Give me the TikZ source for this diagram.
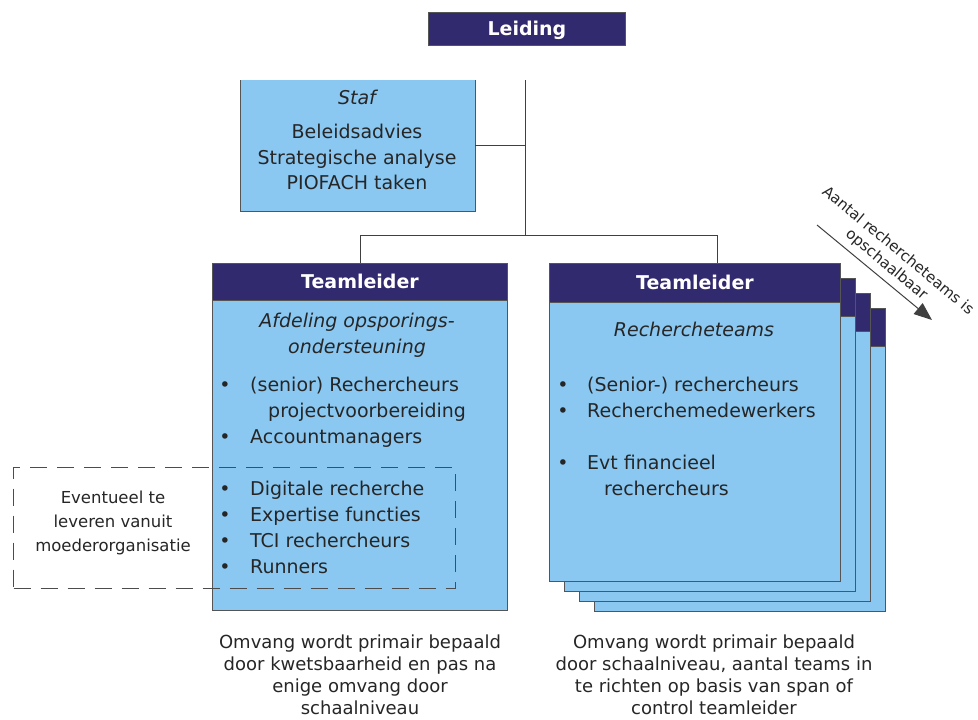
\documentclass[tikz,border=0pt]{standalone}
\usepackage{fontspec}
\setmainfont{DejaVu Sans}
\usetikzlibrary{arrows.meta,calc}
\definecolor{donkerblauw}{RGB}{50,42,110}
\definecolor{lichtblauw}{RGB}{138,200,242}
\definecolor{randgrijs}{RGB}{85,85,85}
\newcommand{\grootfont}{\fontsize{19}{25}\selectfont}
\newcommand{\kleinfont}{\fontsize{18}{22}\selectfont}
\newcommand{\middelfont}{\fontsize{16.5}{24}\selectfont}

\begin{document}
\begin{tikzpicture}[x=1pt,y=-1pt,text=black!85,
    vak/.style = {fill=lichtblauw, draw=randgrijs, line width=0.9pt, inner sep=0pt, anchor=north west},
    kop/.style = {fill=donkerblauw, draw=randgrijs, line width=0.9pt, text=white, font=\grootfont\bfseries,
                  inner sep=0pt, anchor=north west, text height=14pt, text depth=0pt},
    regel/.style = {inner sep=0pt, text height=14pt, text depth=0pt, font=\grootfont},
    lijn/.style = {draw=black!75, line width=0.9pt}]
    \useasboundingbox (0,0) rectangle (978,720);

    % leiding en staf
    \node[kop, minimum width=197pt, minimum height=33pt] (leiding) at (428,12) {Leiding};
    \node[fill=lichtblauw, inner sep=0pt, anchor=north west, minimum width=235pt, minimum height=131pt] (staf) at (240,80) {};
    \draw[draw=randgrijs, line width=0.9pt] (staf.north west) -- (staf.south west) -- (staf.south east) -- (staf.north east);
    \node[regel, font=\grootfont\itshape] (staf1) at (357,97) {Staf};
    \node[regel] (staf2) at (357,131) {Beleidsadvies};
    \node[regel] (staf3) at (357,157) {Strategische analyse};
    \node[regel] (staf4) at (357,182) {PIOFACH taken};

    % rechercheteams (stapel)
    \foreach \i in {3,2,1} {
        \node[vak, minimum width=291pt, minimum height={318-5*\i}] (rteam\i) at ({549+15*\i},{263+15*\i}) {};
        \node[kop, minimum width=291pt, minimum height=38pt] (rkop\i) at (rteam\i.north west) {};
    }
    \node[kop, minimum width=291pt, minimum height=39pt] (rkop) at (549,263) {Teamleider};
    \node[vak, minimum width=291pt, minimum height=279pt] (rteam) at (549,302) {};

    % afdeling opsporingsondersteuning
    \node[kop, minimum width=295pt, minimum height=37pt] (lkop) at (212,263) {Teamleider};
    \node[vak, minimum width=295pt, minimum height=310pt] (lteam) at (212,300) {};

    % verbindingen
    \coordinate (stam) at (525,80);
    \coordinate (splits) at (525,235);
    \coordinate (rmidden) at ($(rkop.north west)!.5!(rteam3.north east)$);
    \draw[lijn] (stam) -- (splits);
    \draw[lijn] (staf.east) -- (staf.east -| stam);
    \draw[lijn] (splits) -| (lkop.north);
    \draw[lijn] (splits) -| (rmidden |- rkop.north);

    % tekst links
    \node[regel, font=\grootfont\itshape] (lt1) at (357,320) {Afdeling opsporings-};
    \node[regel, font=\grootfont\itshape] (lt2) at (357,346) {ondersteuning};
    \foreach \y/\t in {384/(senior) Rechercheurs, 436/Accountmanagers, 488/Digitale recherche,
                       514/Expertise functies, 540/TCI rechercheurs, 566/Runners} {
        \node[regel] (lb\y) at (225,\y) {\textbullet};
        \node[regel, anchor=west] (lr\y) at (250,\y) {\t};
    }
    \node[regel, anchor=west] (lr410) at (268,410) {projectvoorbereiding};

    % tekst rechts
    \node[regel, font=\grootfont\itshape] (rt1) at (694,329) {Rechercheteams};
    \foreach \y/\t in {384/(Senior-) rechercheurs, 410/Recherchemedewerkers, 462/Evt financieel} {
        \node[regel] (rb\y) at (563,\y) {\textbullet};
        \node[regel, anchor=west] (rr\y) at (587,\y) {\t};
    }
    \node[regel, anchor=west] (rr488) at (604,488) {rechercheurs};

    % extern te leveren
    \node[draw=black!70, line width=1.3pt, dash pattern=on 17pt off 10pt, inner sep=0pt, anchor=north west,
          minimum width=442pt, minimum height=121pt] (extern) at (13,467) {};
    \node[font=\middelfont, align=center, inner sep=0pt] (externtekst) at (113,523) {Eventueel te\\leveren vanuit\\moederorganisatie};

    % toelichting
    \node[font=\kleinfont, align=center, inner sep=0pt] (londer) at (360,675)
        {Omvang wordt primair bepaald\\door kwetsbaarheid en pas na\\enige omvang door\\schaalniveau};
    \node[font=\kleinfont, align=center, inner sep=0pt] (ronder) at (714,675)
        {Omvang wordt primair bepaald\\door schaalniveau, aantal teams in\\te richten op basis van span of\\control teamleider};

    % opschaalbaar
    \coordinate (pstart) at (817,225);
    \coordinate (peind) at (932,320);
    \draw[draw=black!75, line width=1pt, -{Triangle[length=18pt,width=14pt]}] (pstart) -- (peind);
    \node[rotate=-39.6, align=center, inner sep=0pt, font=\fontsize{15}{18}\selectfont] (schaal) at (892,258)
        {Aantal rechercheteams is\\opschaalbaar};
\end{tikzpicture}
\end{document}
